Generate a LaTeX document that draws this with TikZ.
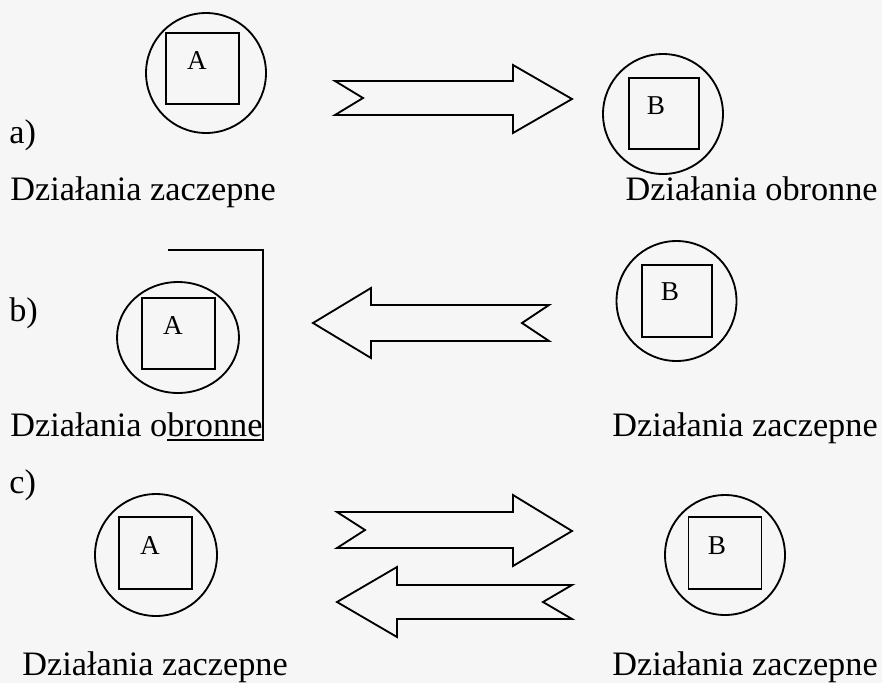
\documentclass[tikz,border=0pt]{standalone}
\usepackage{fontspec}
\setmainfont{Liberation Serif}
\usepackage{tikz}
\usetikzlibrary{shapes.geometric}

\tikzset{
	ring/.style={draw, circle, line width=1.05pt, minimum size=2.4cm, inner sep=0pt},
	box/.style={draw, line width=0.9pt, minimum width=1.46cm, minimum height=1.42cm, inner sep=0pt},
	letter/.style={font=\fontsize{15.5}{17}\selectfont, inner sep=0pt},
	caption/.style={font=\fontsize{19.5}{22}\selectfont, inner sep=0pt},
	fat/.style={line width=1.05pt, line join=miter}
}

\begin{document}
\begin{tikzpicture}[x=0.02cm, y=-0.02cm]
	
	\fill[gray!7] (0,0) rectangle (882,683);
	\useasboundingbox (0,0) rectangle (882,683);
	
	\node[ring] (ringA1) at (206,73) {};
	\node[box] (boxA1) at (202.5,68.5) {};
	\node[letter] (letA1) at (197,61) {A};
	\draw[fat] (335,81) -- (513,81) -- (513,65) -- (572,99) -- (513,133) -- (513,115) -- (335,115) -- (363,98) -- cycle;
	\node[ring] (ringB1) at (663,114) {};
	\node[box, minimum width=1.4cm] (boxB1) at (664,113.5) {};
	\node[letter] (letB1) at (656,106) {B};
	\node[caption, anchor=base west] (tagA) at (9,143) {a)};
	\node[caption, anchor=base west] (capA1) at (10,200) {Działania zaczepne};
	\node[caption, anchor=base east] (capB1) at (878,200) {Działania obronne};
	
	\node[ring, ellipse, minimum width=2.44cm, minimum height=2.22cm] (ringA2) at (178,337.5) {};
	\node[box] (boxA2) at (178.5,333.5) {};
	\node[letter] (letA2) at (173,326) {A};
	\draw[fat] (168,250) -- (263,250) -- (263,440) -- (167,440);
	\draw[fat] (313,323) -- (371,288) -- (371,305) -- (549,305) -- (522,323) -- (549,341) -- (371,341) -- (371,358) -- cycle;
	\node[ring] (ringB2) at (676.5,301) {};
	\node[box, minimum width=1.4cm, minimum height=1.44cm] (boxB2) at (677,301) {};
	\node[letter] (letB2) at (670,292) {B};
	\node[caption, anchor=base west] (tagB) at (9,321) {b)};
	\node[caption, anchor=base west] (capA2) at (10,436) {Działania obronne};
	\node[caption, anchor=base east] (capB2) at (878,436) {Działania zaczepne};
	
	\node[ring, minimum size=2.44cm] (ringA3) at (156,555) {};
	\node[box, minimum height=1.44cm] (boxA3) at (155.5,553) {};
	\node[letter] (letA3) at (150,546) {A};
	\draw[fat] (337,512) -- (513,512) -- (513,495) -- (572,531) -- (513,566) -- (513,548) -- (337,548) -- (365,530) -- cycle;
	\draw[fat] (337,602) -- (397,567) -- (397,585) -- (572,585) -- (543,602) -- (572,619) -- (397,619) -- (397,637) -- cycle;
	\node[ring] (ringB3) at (725,555) {};
	\node[box, minimum height=1.44cm] (boxB3) at (725,553) {};
	\node[letter] (letB3) at (717,546) {B};
	\node[caption, anchor=base west] (tagC) at (9,493) {c)};
	\node[caption, anchor=base west] (capA3) at (22,675) {Działania zaczepne};
	\node[caption, anchor=base east] (capB3) at (878,675) {Działania zaczepne};
	
\end{tikzpicture}
\end{document}
